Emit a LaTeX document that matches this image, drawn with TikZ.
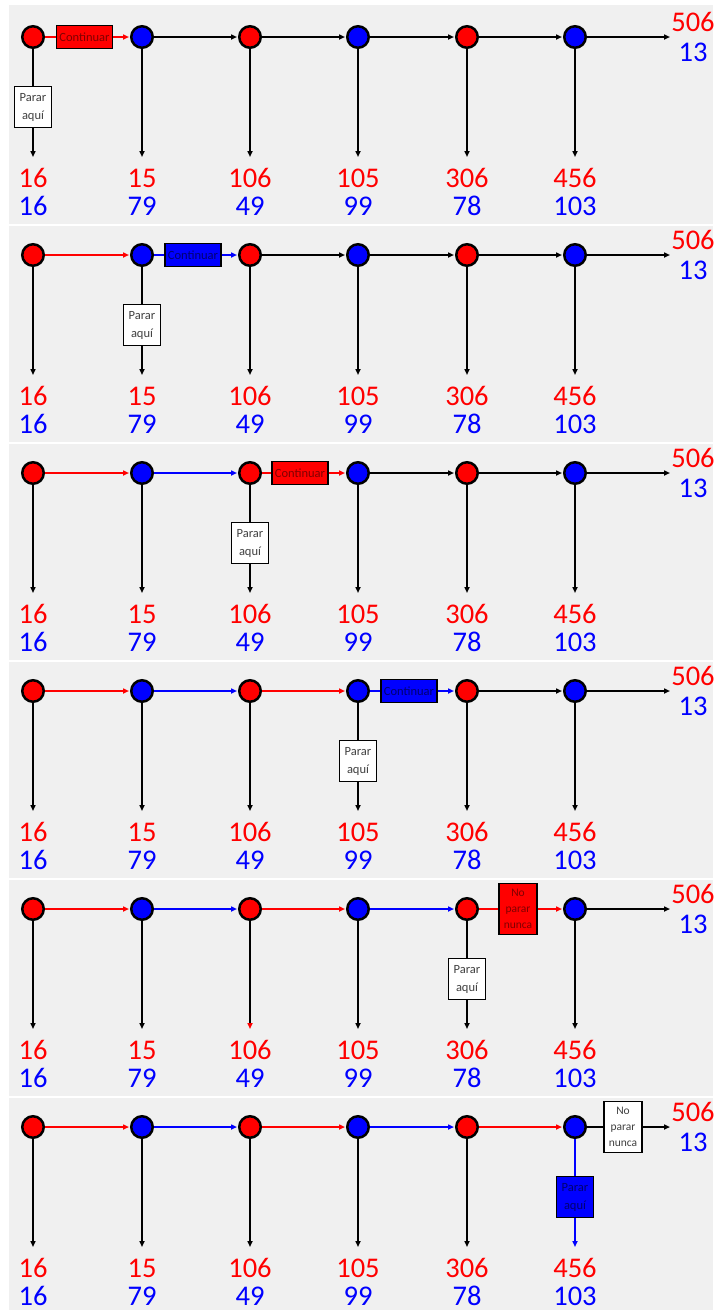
\documentclass[tikz,border=0pt]{standalone}
\usepackage{fontspec}
\setmainfont{Carlito}
\usetikzlibrary{arrows.meta}
\definecolor{pg}{HTML}{F0F0F0}
\definecolor{rd}{HTML}{FF0000}
\definecolor{bl}{HTML}{0000FF}
\definecolor{rtxt}{HTML}{800000}
\definecolor{btxt}{HTML}{000070}
\definecolor{gtxt}{HTML}{404040}
\begin{document}
\begin{tikzpicture}[x=1pt,y=-1pt,
  dot/.style={circle, draw=black, line width=2.5pt, minimum size=21.5pt, inner sep=0pt},
  tip/.style={-{Triangle[length=6pt,width=5pt]}},
  blk/.style={tip, draw=black, line width=2.5pt, shorten >=1pt},
  clr/.style={draw=#1, line width=2pt},
  box/.style={draw=black, line width=1.8pt, inner sep=0pt, align=center, font=\fontsize{12.5}{18}\selectfont},
  cont/.style={box, minimum width=56pt, minimum height=23pt},
  stopbox/.style={box, minimum width=37pt, minimum height=41pt},
  never/.style={box, minimum width=38pt, minimum height=51pt, font=\fontsize{11.5}{16}\selectfont},
  num/.style={font=\fontsize{28.5}{28.5}\selectfont, inner sep=0pt, text height=18pt, text depth=0pt}]
\useasboundingbox (0,0) rectangle (713,1310);
\fill[white] (0,0) rectangle (713,1310);
\foreach \t/\bt in {5/224, 226/442, 444/660, 662/878, 880/1096, 1098/1310}
  \fill[pg] (9,\t) rectangle (713,\bt);
% circles, numbers, end labels
\foreach \k in {1,...,6} {
  \pgfmathsetmacro\yy{37+218*(\k-1)}
  \foreach \i/\xx/\col/\rn/\bn in {1/33/rd/16/16, 2/142/bl/15/79, 3/250/rd/106/49, 4/358/bl/105/99, 5/467/rd/306/78, 6/575/bl/456/103} {
    \node[dot, fill=\col] (c\k-\i) at (\xx,\yy) {};
    \coordinate (v\k-\i) at (\xx,\yy+120);
    \node[num, text=rd] (r\k-\i) at (\xx,\yy+141) {\rn};
    \node[num, text=bl] (b\k-\i) at (\xx,\yy+169) {\bn};
  }
  \coordinate (e\k) at (670,\yy);
  \node[num, text=rd] (er\k) at (693,\yy-15) {506};
  \node[num, text=bl] (eb\k) at (693,\yy+15) {13};
}
% plain horizontal and vertical arrows
\foreach \k in {1,...,6} {
  \foreach \j/\n/\col in {1/2/rd, 2/3/bl, 3/4/rd, 4/5/bl, 5/6/rd} {
    \ifnum\j<\k \draw[tip, clr=\col, shorten >=1pt] (c\k-\j.east) -- (c\k-\n.west); \fi
    \ifnum\j>\k \draw[blk] (c\k-\j.east) -- (c\k-\n.west); \fi
  }
  \ifnum\k<6 \draw[blk, shorten >=0pt] (c\k-6.east) -- (e\k); \fi
  \foreach \j in {1,...,6} {
    \ifnum\j=\k \else
      \ifnum\k=5 \ifnum\j=3 \def\skipme{1}\else\def\skipme{0}\fi \else \def\skipme{0}\fi
      \ifnum\skipme=0 \draw[blk, shorten >=0pt] (c\k-\j.south) -- (v\k-\j); \fi
    \fi
  }
}
% panel 5, arrow to 106 with red tip
\draw[-{Triangle[length=6pt,width=5pt,color=rd]}, draw=black, line width=2.5pt] (c5-3.south) -- (v5-3);
% panel 1
\node[cont, fill=rd, text=rtxt] (h1) at (84.5,37) {Continuar};
\draw[clr=rd] (c1-1.east) -- (h1.west);
\draw[tip, clr=rd, shorten >=1pt] (h1.east) -- (c1-2.west);
\node[stopbox, fill=white, text=gtxt] (s1) at (33,107) {Parar\\aquí};
\draw[line width=2.5pt] (c1-1.south) -- (s1.north);
\draw[blk, shorten >=0pt] (s1.south) -- (v1-1);
% panel 2
\node[cont, fill=bl, text=btxt] (h2) at (193,255) {Continuar};
\draw[clr=bl] (c2-2.east) -- (h2.west);
\draw[tip, clr=bl, shorten >=1pt] (h2.east) -- (c2-3.west);
\node[stopbox, fill=white, text=gtxt] (s2) at (142,325) {Parar\\aquí};
\draw[line width=2.5pt] (c2-2.south) -- (s2.north);
\draw[blk, shorten >=0pt] (s2.south) -- (v2-2);
% panel 3
\node[cont, fill=rd, text=rtxt] (h3) at (300,473) {Continuar};
\draw[clr=rd] (c3-3.east) -- (h3.west);
\draw[tip, clr=rd, shorten >=1pt] (h3.east) -- (c3-4.west);
\node[stopbox, fill=white, text=gtxt] (s3) at (250,543) {Parar\\aquí};
\draw[line width=2.5pt] (c3-3.south) -- (s3.north);
\draw[blk, shorten >=0pt] (s3.south) -- (v3-3);
% panel 4
\node[cont, fill=bl, text=btxt] (h4) at (409,691) {Continuar};
\draw[clr=bl] (c4-4.east) -- (h4.west);
\draw[tip, clr=bl, shorten >=1pt] (h4.east) -- (c4-5.west);
\node[stopbox, fill=white, text=gtxt] (s4) at (358,761) {Parar\\aquí};
\draw[line width=2.5pt] (c4-4.south) -- (s4.north);
\draw[blk, shorten >=0pt] (s4.south) -- (v4-4);
% panel 5
\node[never, fill=rd, text=rtxt] (h5) at (518,909) {No\\parar\\nunca};
\draw[clr=rd] (c5-5.east) -- (h5.west);
\draw[tip, clr=rd, shorten >=1pt] (h5.east) -- (c5-6.west);
\node[stopbox, fill=white, text=gtxt] (s5) at (467,979) {Parar\\aquí};
\draw[line width=2.5pt] (c5-5.south) -- (s5.north);
\draw[blk, shorten >=0pt] (s5.south) -- (v5-5);
% panel 6
\node[never, fill=white, text=gtxt] (h6) at (623,1127) {No\\parar\\nunca};
\draw[line width=2.5pt] (c6-6.east) -- (h6.west);
\draw[blk, shorten >=0pt] (h6.east) -- (e6);
\node[stopbox, fill=bl, text=btxt] (s6) at (575,1197) {Parar\\aquí};
\draw[clr=bl] (c6-6.south) -- (s6.north);
\draw[tip, clr=bl] (s6.south) -- (v6-6);
\end{tikzpicture}
\end{document}
